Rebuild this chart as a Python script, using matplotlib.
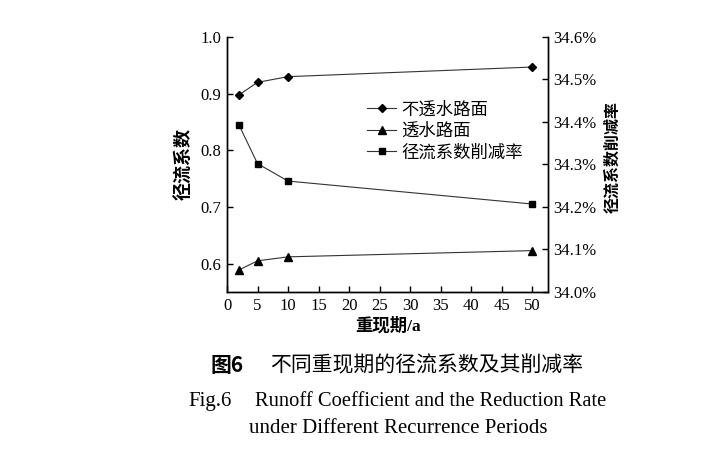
import matplotlib
matplotlib.use("Agg")
import matplotlib.pyplot as plt
from matplotlib.ticker import FuncFormatter, MultipleLocator

plt.rcParams['font.family'] = ['Liberation Serif', 'Noto Sans CJK SC']

periods = [2, 5, 10, 50]
impervious = [0.898, 0.920, 0.930, 0.947]
pervious = [0.589, 0.605, 0.612, 0.623]
reduction = [34.392, 34.302, 34.261, 34.207]  # percent

label_imp = "不透水路面"
label_per = "透水路面"
label_red = "径流系数削减率"
xlabel = "重现期/a"
ylabel_left = "径流系数"
ylabel_right = "径流系数削减率"

fig = plt.figure(figsize=(7.17, 4.49), dpi=100)
ax = fig.add_axes([0.3166, 0.3497, 0.4477, 0.5679])
ax2 = ax.twinx()

lc = '#333333'
l1, = ax.plot(periods, impervious, color=lc, lw=0.8, marker='D', ms=4.5,
              mfc='black', mec='black', label=label_imp)
l2, = ax.plot(periods, pervious, color=lc, lw=0.8, marker='^', ms=5.5,
              mfc='black', mec='black', label=label_per)
l3, = ax2.plot(periods, reduction, color=lc, lw=0.8, marker='s', ms=4.5,
               mfc='black', mec='black', label=label_red)

ax.set_xlim(0, 52.6)
ax.set_ylim(0.55, 1.0)
ax2.set_ylim(34.0, 34.6)
ax.xaxis.set_major_locator(MultipleLocator(5))
ax.yaxis.set_major_locator(MultipleLocator(0.1))
ax2.yaxis.set_major_locator(MultipleLocator(0.1))
ax.yaxis.set_major_formatter(FuncFormatter(lambda v, p: f"{v:.1f}"))
ax2.yaxis.set_major_formatter(FuncFormatter(lambda v, p: f"{v:.1f}%"))

for a in (ax, ax2):
    a.spines['top'].set_visible(False)
    for s in a.spines.values():
        s.set_linewidth(1.0)
        s.set_color('black')
ax.tick_params(axis='both', direction='in', length=4, width=1, labelsize=12, pad=4)
ax2.tick_params(axis='y', direction='in', length=4, width=1, labelsize=12, pad=4)

ax.set_xlabel(xlabel, fontsize=12.5, fontweight='bold', labelpad=3)
ax.set_ylabel(ylabel_left, fontsize=13, fontweight='bold', labelpad=5)
ax2.set_ylabel(ylabel_right, fontsize=11.5, fontweight='bold', labelpad=5)
ax2.yaxis.set_label_coords(1.18, 0.53)

leg = ax.legend(handles=[l1, l2, l3], loc='upper left',
                bbox_to_anchor=(0.502, 0.788), bbox_transform=fig.transFigure,
                frameon=False, fontsize=12.5, handlelength=1.7, handletextpad=0.3,
                labelspacing=0.3, borderaxespad=0)

fig.text(0.293, 0.187, "图6", fontsize=15, fontweight='bold', ha='left', va='center',
         family=['Noto Sans CJK SC'])
fig.text(0.377, 0.187, "不同重现期的径流系数及其削减率", fontsize=15, ha='left', va='center',
         family=['Noto Sans CJK SC'])
fig.text(188 / 717, 0.105, "Fig.6", fontsize=15, ha='left', va='center')
fig.text(255 / 717, 0.105, "Runoff Coefficient and the Reduction Rate", fontsize=14.8,
         ha='left', va='center')
fig.text(0.556, 0.045, "under Different Recurrence Periods", fontsize=15,
         ha='center', va='center')

fig.savefig("out.png", dpi=100)
